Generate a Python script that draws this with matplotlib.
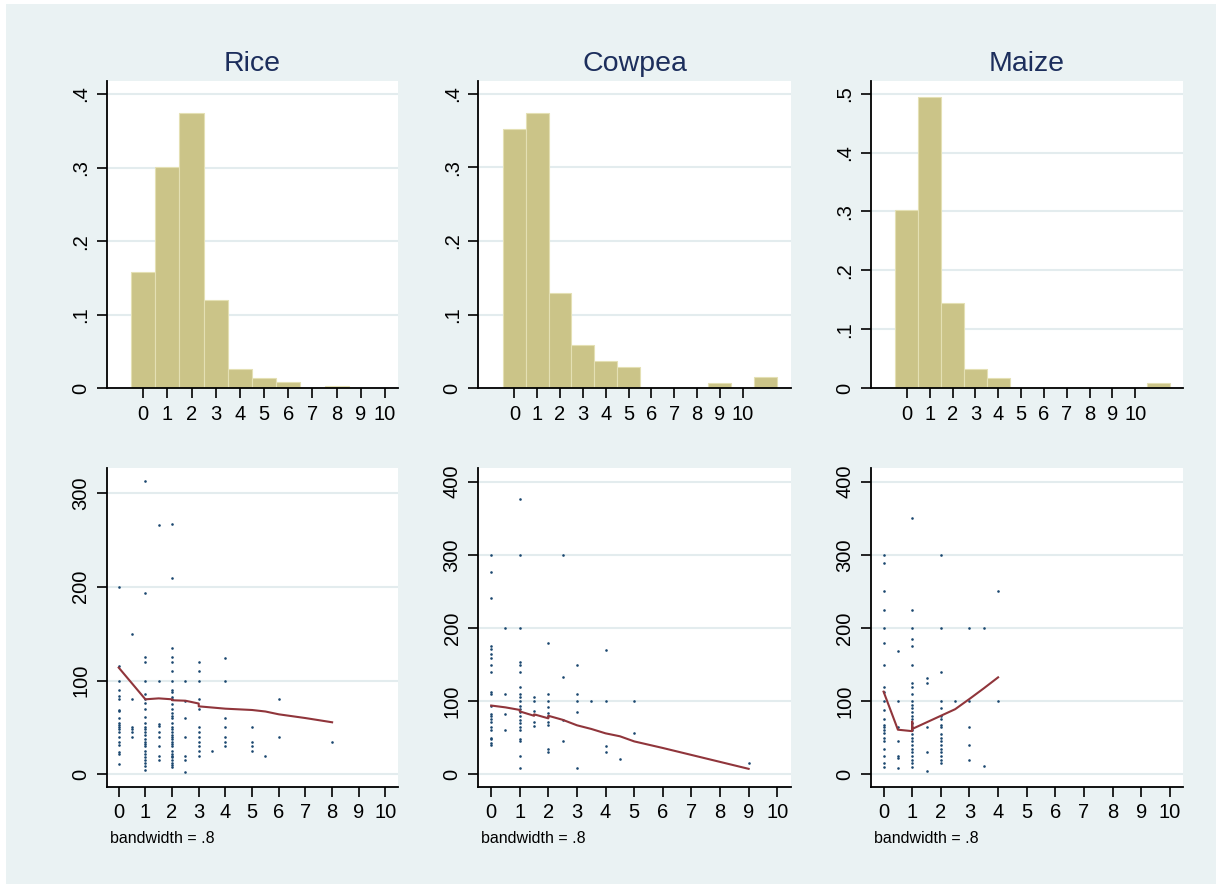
import matplotlib
matplotlib.use("Agg")
import matplotlib.pyplot as plt
from matplotlib.patches import Rectangle

plt.rcParams["font.family"] = ["Liberation Sans", "DejaVu Sans"]

# ---- data ----
crops = ["Rice", "Cowpea", "Maize"]

# histogram (density per unit bin, bins centred on integers)
rice_bins = [0, 1, 2, 3, 4, 5, 6, 7, 8]
rice_dens = [0.158, 0.301, 0.374, 0.120, 0.026, 0.0145, 0.0086, 0.0, 0.0036]
cowpea_bins = [0, 1, 2, 3, 4, 5, 6, 7, 8, 9, 10, 11]
cowpea_dens = [0.352, 0.374, 0.129, 0.0585, 0.0367, 0.0294, 0, 0, 0, 0.0073, 0, 0.0154]
maize_bins = [0, 1, 2, 3, 4, 5, 6, 7, 8, 9, 10, 11]
maize_dens = [0.303, 0.495, 0.144, 0.0328, 0.017, 0, 0, 0, 0, 0, 0, 0.009]

# scatter: y values grouped by x
rice_pts = {
    0: [200, 116, 100, 90, 84, 80, 69, 68, 60, 55, 53, 50, 48, 45, 40, 34, 31, 24, 22, 11],
    0.5: [150, 80, 51, 48, 45, 40],
    1: [313, 193, 125, 120, 100, 86, 80, 76, 70, 61, 55, 51, 48, 45, 42, 38, 35, 32, 30, 25,
        22, 18, 15, 12, 9, 5],
    1.5: [266, 100, 54, 52, 45, 40, 30, 20, 15],
    2: [267, 209, 135, 125, 120, 110, 100, 90, 88, 82, 80, 75, 70, 65, 62, 60, 55, 50, 48, 45,
        42, 40, 38, 35, 32, 30, 25, 22, 20, 18, 15, 12, 10, 8],
    2.5: [100, 78, 60, 40, 20, 15, 3],
    3: [120, 110, 100, 80, 70, 50, 45, 40, 35, 30, 25, 20],
    3.5: [25],
    4: [124, 100, 60, 50, 40, 35, 30],
    5: [50, 35, 30, 25],
    5.5: [20],
    6: [80, 40],
    8: [35],
}
cowpea_pts = {
    0: [300, 276, 241, 176, 171, 164, 159, 150, 140, 113, 110, 93, 83, 80, 76, 72, 65, 61,
        50, 48, 43, 40],
    0.5: [200, 110, 83, 61],
    1: [376, 300, 200, 154, 150, 140, 120, 110, 105, 100, 94, 89, 85, 80, 74, 70, 65, 60,
        48, 45, 25, 8],
    1.5: [105, 100, 86, 71, 66],
    2: [180, 110, 100, 92, 84, 80, 72, 67, 34, 30],
    2.5: [300, 133, 74, 45],
    3: [150, 110, 100, 85, 8],
    3.5: [100],
    4: [170, 100, 39, 31],
    4.5: [20.5],
    5: [100, 56],
    9: [16],
}
maize_pts = {
    0: [300, 289, 250, 225, 200, 180, 150, 120, 112, 100, 88, 76, 67, 65, 60, 56, 50, 45,
        34, 25, 15, 10],
    0.5: [168, 100, 65, 45, 25, 22, 8],
    1: [350, 225, 200, 185, 176, 150, 125, 120, 110, 100, 95, 90, 85, 80, 75, 70, 65, 60,
        55, 50, 45, 40, 35, 30, 25, 20, 15, 10],
    1.5: [132, 125, 65, 30, 5],
    2: [300, 200, 140, 100, 90, 80, 75, 67, 65, 55, 49, 45, 40, 35, 30, 25, 20, 15],
    2.5: [100],
    3: [200, 100, 65, 40, 20],
    3.5: [200, 12],
    4: [250, 100],
}

# lowess curves (bandwidth .8) as drawn
rice_lw_x = [0, 1, 1.5, 2, 2, 2.5, 3, 3, 4, 5, 5.5, 6, 7, 8]
rice_lw_y = [113.8, 80, 81, 80, 79, 78.5, 75.5, 72.5, 70, 68.6, 67, 64, 60, 55.5]
cowpea_lw_x = [0, 0.5, 1, 1, 1.5, 1.5, 2, 2, 2.5, 3, 3.5, 4, 4.5, 5, 6, 7, 8, 9]
cowpea_lw_y = [94, 91.5, 88, 86, 80, 82, 76.5, 80, 74.5, 67, 62, 56, 52, 45, 36, 26.5, 17, 7.5]
maize_lw_x = [0, 0.5, 1, 1, 1, 1.5, 2, 2.5, 3, 3.5, 4]
maize_lw_y = [113, 61, 59, 72, 62, 71, 80, 89, 103, 117.5, 132.5]

hist_data = [(rice_bins, rice_dens), (cowpea_bins, cowpea_dens), (maize_bins, maize_dens)]
pts_data = [rice_pts, cowpea_pts, maize_pts]
lw_data = [(rice_lw_x, rice_lw_y), (cowpea_lw_x, cowpea_lw_y), (maize_lw_x, maize_lw_y)]

hist_yticks = [[0, .1, .2, .3, .4], [0, .1, .2, .3, .4], [0, .1, .2, .3, .4, .5]]
hist_ylim = [0.4177, 0.417, 0.5213]
hist_xlim = [(-1.51, 10.54), (-1.58, 12.1), (-1.58, 12.1)]
sc_yticks = [[0, 100, 200, 300], [0, 100, 200, 300, 400], [0, 100, 200, 300, 400]]
sc_ylim = [(-13.2, 327), (-16.9, 419), (-16.9, 419)]

BG = "#EAF2F3"
BAR = "#CBC488"
NAVY = "#1A476F"
MAROON = "#90353B"
TITLE = "#1C2E5C"


def fmt_dec(v):
    if v == 0:
        return "0"
    return ("%g" % v).lstrip("0")


fig = plt.figure(figsize=(12.22, 8.88), dpi=100)
fig.patch.set_facecolor("white")
fig.patches.append(Rectangle((6 / 1222, 4 / 888), 1210 / 1222, 880 / 888,
                             transform=fig.transFigure, facecolor=BG, edgecolor="none",
                             zorder=-10))

lefts = [106.7, 478.3, 870.7]
rights = [398, 790.7, 1183.3]


def style(ax):
    ax.set_facecolor("white")
    for s in ["top", "right"]:
        ax.spines[s].set_visible(False)
    for s in ["left", "bottom"]:
        ax.spines[s].set_linewidth(1.3)
    ax.tick_params(direction="out", length=7, width=1.2, labelsize=14.5, pad=5)
    ax.grid(axis="y", color="#E3ECEE", linewidth=1.5)
    ax.set_axisbelow(True)
    ax.set_xticks(range(0, 11))
    for lab in ax.get_yticklabels():
        lab.set_rotation(90)
        lab.set_va("center")


for i in range(3):
    l, r = lefts[i], rights[i]
    # top: histogram
    ax = fig.add_axes([l / 1222, 1 - 388.3 / 888, (r - l) / 1222, (388.3 - 81) / 888])
    bins, dens = hist_data[i]
    ax.bar(bins, dens, width=1.0, color=BAR, edgecolor="#E4E0B4", linewidth=0.8, zorder=2)
    ax.set_xlim(*hist_xlim[i])
    ax.set_ylim(0, hist_ylim[i])
    ax.set_yticks(hist_yticks[i])
    ax.set_yticklabels([fmt_dec(v) for v in hist_yticks[i]])
    style(ax)
    ax.set_title(crops[i], fontsize=20.5, color=TITLE, pad=7)

    # bottom: scatter + lowess
    ax2 = fig.add_axes([l / 1222, 1 - 786.7 / 888, (r - l) / 1222, (786.7 - 467.7) / 888])
    xs, ys = [], []
    for xv, yl in pts_data[i].items():
        xs += [xv] * len(yl)
        ys += yl
    ax2.scatter(xs, ys, s=3.5, marker="o", color=NAVY, linewidths=0, zorder=3)
    lx, ly = lw_data[i]
    ax2.plot(lx, ly, color=MAROON, linewidth=1.5, zorder=4)
    ax2.set_xlim(-0.45, 10.47)
    ax2.set_ylim(*sc_ylim[i])
    ax2.set_yticks(sc_yticks[i])
    ax2.set_yticklabels([str(v) for v in sc_yticks[i]])
    style(ax2)
    ax2.text(0.01, -0.163, "bandwidth = .8", transform=ax2.transAxes,
             fontsize=11.5, ha="left", va="center")

fig.savefig("out.png", dpi=100, facecolor="white")
